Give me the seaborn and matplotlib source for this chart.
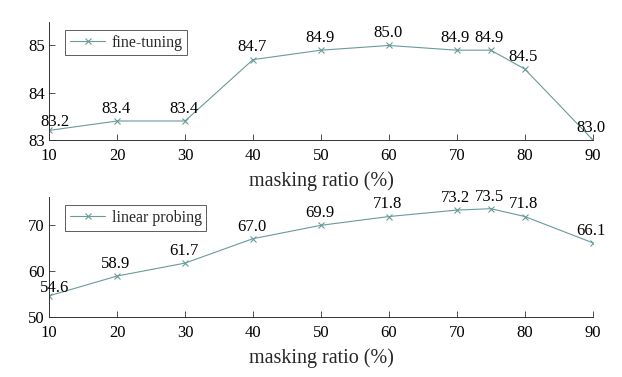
import pandas as pd
import numpy as np
import matplotlib
matplotlib.use("Agg")
import matplotlib.pyplot as plt
import seaborn as sns

# Data
ratios = [10, 20, 30, 40, 50, 60, 70, 75, 80, 90]
fine_tuning = [83.2, 83.4, 83.4, 84.7, 84.9, 85.0, 84.9, 84.9, 84.5, 83.0]
linear_probing = [54.6, 58.9, 61.7, 67.0, 69.9, 71.8, 73.2, 73.5, 71.8, 66.1]
x_ticks = [10, 20, 30, 40, 50, 60, 70, 80, 90]

sns.set_theme(style="white")
plt.rcParams["font.family"] = ["Liberation Serif", "DejaVu Serif"]

line_color = "#6a9a9a"

fig = plt.figure(figsize=(6.22, 3.77), dpi=100)
ax1 = fig.add_axes([0.079, 0.629, 0.874, 0.313])
ax2 = fig.add_axes([0.079, 0.159, 0.874, 0.318])

panels = [
    (ax1, fine_tuning, "fine-tuning", (83, 85.5), [83, 84, 85]),
    (ax2, linear_probing, "linear probing", (50, 76), [50, 60, 70]),
]

for ax, vals, name, ylim, yticks in panels:
    df = pd.DataFrame({"ratio": ratios, "acc": vals})
    sns.lineplot(data=df, x="ratio", y="acc", ax=ax, color=line_color, lw=0.8,
                 marker="x", markersize=4, markeredgewidth=0.8,
                 markeredgecolor=line_color, label=name)
    for xv, yv in zip(ratios, vals):
        # first label sits low and a bit right so it clears the y tick labels
        off = (4, 0) if xv == ratios[0] else (-1, 3)
        ax.annotate(f"{yv:.1f}", (xv, yv), xytext=off, textcoords="offset points",
                    ha="center", va="bottom", fontsize=12, color="black")
    ax.set_xlim(10, 90)
    ax.set_ylim(*ylim)
    ax.set_xticks(x_ticks)
    ax.set_yticks(yticks)
    ax.tick_params(direction="in", length=4, width=0.6, colors="#333333",
                   labelcolor="black", labelsize=12, bottom=True, left=True)
    ax.tick_params(axis="x", pad=6)
    ax.tick_params(axis="y", pad=3)
    for s in ["top", "right"]:
        ax.spines[s].set_visible(False)
    for s in ["left", "bottom"]:
        ax.spines[s].set_color("#333333")
        ax.spines[s].set_linewidth(0.7)
    ax.set_xlabel("masking ratio (%)", fontsize=14.5, labelpad=5)
    ax.set_ylabel("")
    leg = ax.legend(loc="upper left", fontsize=11.5, frameon=True, fancybox=False,
                    handlelength=2.2, handletextpad=0.4, borderpad=0.3,
                    bbox_to_anchor=(0.015, 1.0))
    leg.get_frame().set_edgecolor("#333333")
    leg.get_frame().set_linewidth(0.7)

fig.savefig("out.png", dpi=100)
